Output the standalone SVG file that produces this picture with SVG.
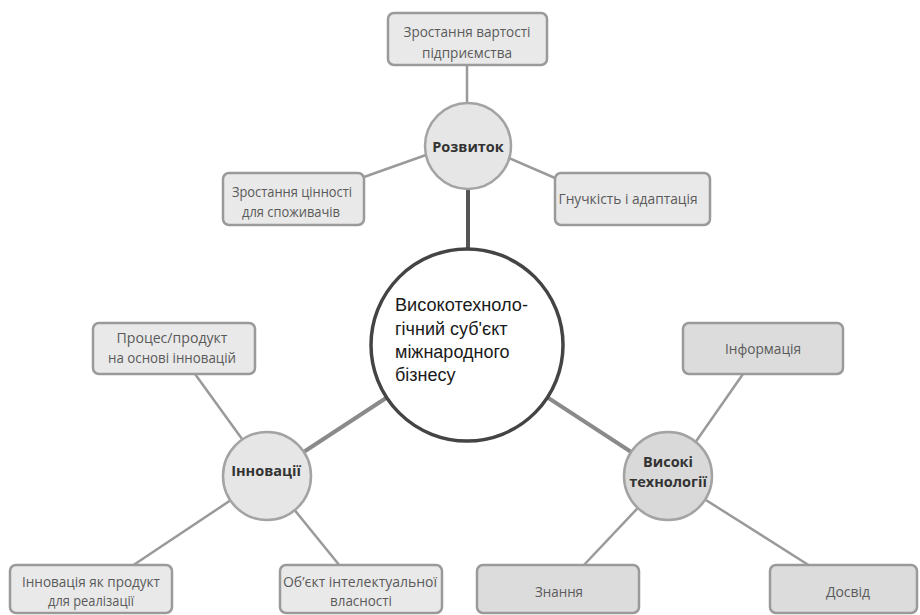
<svg xmlns="http://www.w3.org/2000/svg" width="920" height="615" viewBox="0 0 920 615">
<style>
.box{fill:#e9e9e9;stroke:#9a9a9a;stroke-width:2.5}
.box2{fill:#dcdcdc;stroke:#9a9a9a;stroke-width:2.5}
.hub{fill:#e6e6e6;stroke:#a3a3a3;stroke-width:2.5}
.hub2{fill:#d9d9d9;stroke:#a3a3a3;stroke-width:2.5}
.lbl{font-family:"Open Sans","Liberation Sans",sans-serif;font-size:15px;fill:#5a5a5a;text-anchor:middle}
.hl{font-family:"Open Sans","Liberation Sans",sans-serif;font-size:14.5px;font-weight:bold;fill:#333;text-anchor:middle}
.ct{font-family:"Liberation Sans","Noto Sans",sans-serif;font-size:18px;fill:#1a1a1a}
.thin{stroke:#9a9a9a;stroke-width:2.5;fill:none}
.thick{stroke:#8a8a8a;stroke-width:4;fill:none}
.dark{stroke:#555;stroke-width:4;fill:none}
</style>
<rect width="920" height="615" fill="#fff"/>
<g id="connectors">
<line class="thin" x1="467" y1="65" x2="467" y2="110"/>
<line class="thin" x1="364" y1="177" x2="440" y2="150"/>
<line class="thin" x1="555" y1="178" x2="495" y2="152"/>
<line class="dark" x1="468" y1="180" x2="468" y2="260"/>
<line class="thick" x1="267" y1="476" x2="467" y2="345"/>
<line class="thick" x1="668" y1="476" x2="467" y2="345"/>
<line class="thin" x1="195" y1="374" x2="250" y2="450"/>
<line class="thin" x1="132" y1="566" x2="267" y2="476"/>
<line class="thin" x1="340" y1="566" x2="267" y2="476"/>
<line class="thin" x1="743" y1="374" x2="690" y2="450"/>
<line class="thin" x1="583" y1="566" x2="668" y2="476"/>
<line class="thin" x1="810" y1="566" x2="668" y2="476"/>
</g>
<g id="top-box">
<rect class="box" x="388" y="13" width="159" height="52" rx="6"/>
<text class="lbl" x="467" y="37" textLength="127" lengthAdjust="spacingAndGlyphs">Зростання вартості</text>
<text class="lbl" x="467" y="58" textLength="90" lengthAdjust="spacingAndGlyphs">підприємства</text>
</g>
<g id="rozvytok">
<circle class="hub" cx="468" cy="146" r="43"/>
<text class="hl" x="468" y="152">Розвиток</text>
</g>
<g id="value-consumers">
<rect class="box" x="223" y="173" width="141" height="52" rx="6"/>
<text class="lbl" x="292" y="197" textLength="120" lengthAdjust="spacingAndGlyphs">Зростання цінності</text>
<text class="lbl" x="291" y="217" textLength="98" lengthAdjust="spacingAndGlyphs">для споживачів</text>
</g>
<g id="flex">
<rect class="box" x="555" y="173" width="155" height="52" rx="6"/>
<text class="lbl" x="628" y="204" textLength="139" lengthAdjust="spacingAndGlyphs">Гнучкість і адаптація</text>
</g>
<g id="center">
<circle cx="467" cy="345" r="96" fill="#fff" stroke="#444" stroke-width="3.5"/>
<text class="ct" x="395" y="311" textLength="133" lengthAdjust="spacingAndGlyphs">Високотехноло-</text>
<text class="ct" x="395" y="335">гічний суб'єкт</text>
<text class="ct" x="395" y="358">міжнародного</text>
<text class="ct" x="395" y="381">бізнесу</text>
</g>
<g id="process-box">
<rect class="box" x="93" y="323" width="162" height="51" rx="6"/>
<text class="lbl" x="172" y="343" textLength="111" lengthAdjust="spacingAndGlyphs">Процес/продукт</text>
<text class="lbl" x="172" y="363" textLength="128" lengthAdjust="spacingAndGlyphs">на основі інновацій</text>
</g>
<g id="innovations">
<circle class="hub" cx="267" cy="476" r="44"/>
<text class="hl" x="266" y="476">Інновації</text>
</g>
<g id="innov-product">
<rect class="box" x="10" y="565" width="162" height="48" rx="6"/>
<text class="lbl" x="91" y="587" textLength="138" lengthAdjust="spacingAndGlyphs">Інновація як продукт</text>
<text class="lbl" x="91" y="606" textLength="86" lengthAdjust="spacingAndGlyphs">для реалізації</text>
</g>
<g id="ip-object">
<rect class="box" x="280" y="565" width="162" height="48" rx="6"/>
<text class="lbl" x="360" y="587" textLength="154" lengthAdjust="spacingAndGlyphs">Об’єкт  інтелектуальної</text>
<text class="lbl" x="361" y="606" textLength="62" lengthAdjust="spacingAndGlyphs">власності</text>
</g>
<g id="info">
<rect class="box2" x="683" y="323" width="160" height="51" rx="6"/>
<text class="lbl" x="763" y="354" textLength="76" lengthAdjust="spacingAndGlyphs">Інформація</text>
</g>
<g id="hightech">
<circle class="hub2" cx="668" cy="476" r="44"/>
<text class="hl" x="668" y="467">Високі</text>
<text class="hl" x="668" y="487">технології</text>
</g>
<g id="knowledge">
<rect class="box2" x="477" y="565" width="162" height="48" rx="6"/>
<text class="lbl" x="559" y="597" textLength="48" lengthAdjust="spacingAndGlyphs">Знання</text>
</g>
<g id="experience">
<rect class="box2" x="770" y="565" width="147" height="48" rx="6"/>
<text class="lbl" x="848" y="597" textLength="44" lengthAdjust="spacingAndGlyphs">Досвід</text>
</g>
</svg>
